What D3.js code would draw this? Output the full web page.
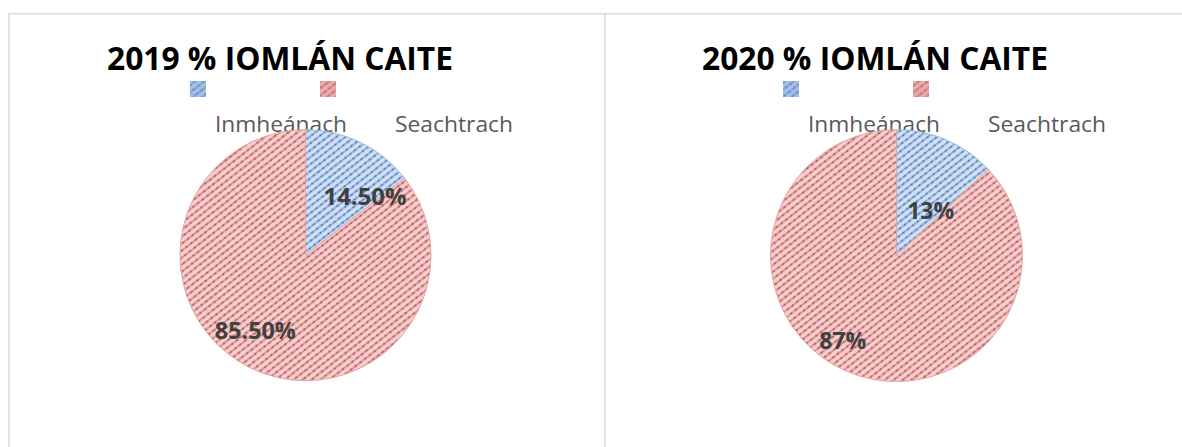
<!DOCTYPE html>
<html>
<head>
<meta charset="utf-8">
<script src="https://cdn.jsdelivr.net/npm/d3@7"></script>
<style>
  html, body { margin: 0; padding: 0; background: #fff; }
  svg { display: block; }
</style>
</head>
<body>
<svg id="chart" width="1182" height="447"></svg>
<script>
// ---- data ----
const titles = ["2019 % IOMLÁN CAITE", "2020 % IOMLÁN CAITE"];
const categories = ["Inmheánach", "Seachtrach"];
const values2019 = [14.5, 85.5];
const values2020 = [13, 87];
const labels2019 = ["14.50%", "85.50%"];
const labels2020 = ["13%", "87%"];

// ---- layout (positions & styles, separate from data) ----
const charts = [
  { title: titles[0], values: values2019, labels: labels2019,
    cx: 305.5, cy: 255.2, r: 125.5, titleX: 107, legendX: 190,
    labelAngle: [45.5, 213.7], labelRad: [0.665, 0.72], labelW: [83, 81] },
  { title: titles[1], values: values2020, labels: labels2020,
    cx: 896.5, cy: 255.6, r: 126, titleX: 702, legendX: 783,
    labelAngle: [37.1, 212.3], labelRad: [0.45, 0.80], labelW: [47, 47] }
];
const colors = {
  fill: ["url(#patBlue)", "url(#patRed)"],
  key: ["#6f98d2", "#d78180"]
};

const svg = d3.select("#chart");
const defs = svg.append("defs");

function makePattern(id, bg, stripe, dot) {
  const p = defs.append("pattern")
    .attr("id", id)
    .attr("patternUnits", "userSpaceOnUse")
    .attr("width", 6).attr("height", 5.5)
    .attr("patternTransform", "rotate(-38)");
  p.append("rect").attr("width", 6).attr("height", 5.5).attr("fill", bg);
  p.append("rect").attr("x", 0).attr("y", 1.8).attr("width", 6).attr("height", 2).attr("fill", stripe);
  p.append("circle").attr("cx", 1.5).attr("cy", 2.8).attr("r", 1.1).attr("fill", dot);
}
makePattern("patRed", "#f5d0cf", "#dc9594", "#bf5552");
makePattern("patBlue", "#d2e0f3", "#8fb0de", "#4f7fbf");

// ---- frame ----
const frameColor = "#d9d9d9";
svg.append("line").attr("x1", 9).attr("x2", 1182).attr("y1", 13.75).attr("y2", 13.75)
  .attr("stroke", frameColor).attr("stroke-width", 1.5);
svg.append("line").attr("x1", 9).attr("x2", 9).attr("y1", 13).attr("y2", 447)
  .attr("stroke", frameColor).attr("stroke-width", 1.5);
svg.append("line").attr("x1", 605).attr("x2", 605).attr("y1", 13).attr("y2", 447)
  .attr("stroke", frameColor).attr("stroke-width", 1.5);

const pie = d3.pie().sort(null).value(d => d);

charts.forEach(c => {
  const g = svg.append("g");

  // title
  g.append("text")
    .attr("x", c.titleX).attr("y", 69.5)
    .attr("font-family", "'Open Sans', 'DejaVu Sans', sans-serif")
    .attr("font-weight", "bold").attr("font-size", 32)
    .attr("fill", "#000")
    .attr("textLength", 346).attr("lengthAdjust", "spacingAndGlyphs")
    .text(c.title);

  // legend keys
  const legendOffsets = [0, 130];
  categories.forEach((cat, i) => {
    const lx = c.legendX + legendOffsets[i];
    g.append("rect").attr("x", lx).attr("y", 81).attr("width", 16).attr("height", 16)
      .attr("fill", colors.fill[i]);
    g.append("rect").attr("x", lx).attr("y", 81).attr("width", 16).attr("height", 16)
      .attr("fill", colors.key[i]).attr("opacity", 0.45);
  });
  // legend labels
  const legendTextW = [132, 118];
  const labelXs = [c.legendX + 25, c.legendX + 205];
  categories.forEach((cat, i) => {
    g.append("text")
      .attr("x", labelXs[i]).attr("y", 131.5)
      .attr("font-family", "'Open Sans', 'DejaVu Sans', sans-serif")
      .attr("font-size", 22).attr("fill", "#595959")
      .attr("textLength", legendTextW[i]).attr("lengthAdjust", "spacingAndGlyphs")
      .text(cat);
  });

  // pie
  const arcs = pie(c.values);
  const arc = d3.arc().innerRadius(0).outerRadius(c.r);
  const pg = g.append("g").attr("transform", `translate(${c.cx},${c.cy})`);
  pg.selectAll("path.slice").data(arcs).enter().append("path")
    .attr("class", "slice")
    .attr("d", arc)
    .attr("fill", (d, i) => colors.fill[i])
    .attr("stroke", (d, i) => i === 0 ? "#9cb8e0" : "#e2a4a3")
    .attr("stroke-width", 1);

  // data labels
  arcs.forEach((d, i) => {
    const a = c.labelAngle[i] * Math.PI / 180;
    const rr = c.labelRad[i] * c.r;
    const x = Math.sin(a) * rr;
    const y = -Math.cos(a) * rr;
    pg.append("text")
      .attr("x", x).attr("y", y + 8.5)
      .attr("text-anchor", "middle")
      .attr("font-family", "'Open Sans', 'DejaVu Sans', sans-serif")
      .attr("font-weight", "bold").attr("font-size", 24)
      .attr("fill", "#404040")
      .attr("textLength", c.labelW[i]).attr("lengthAdjust", "spacingAndGlyphs")
      .text(c.labels[i]);
  });
});
</script>
</body>
</html>
